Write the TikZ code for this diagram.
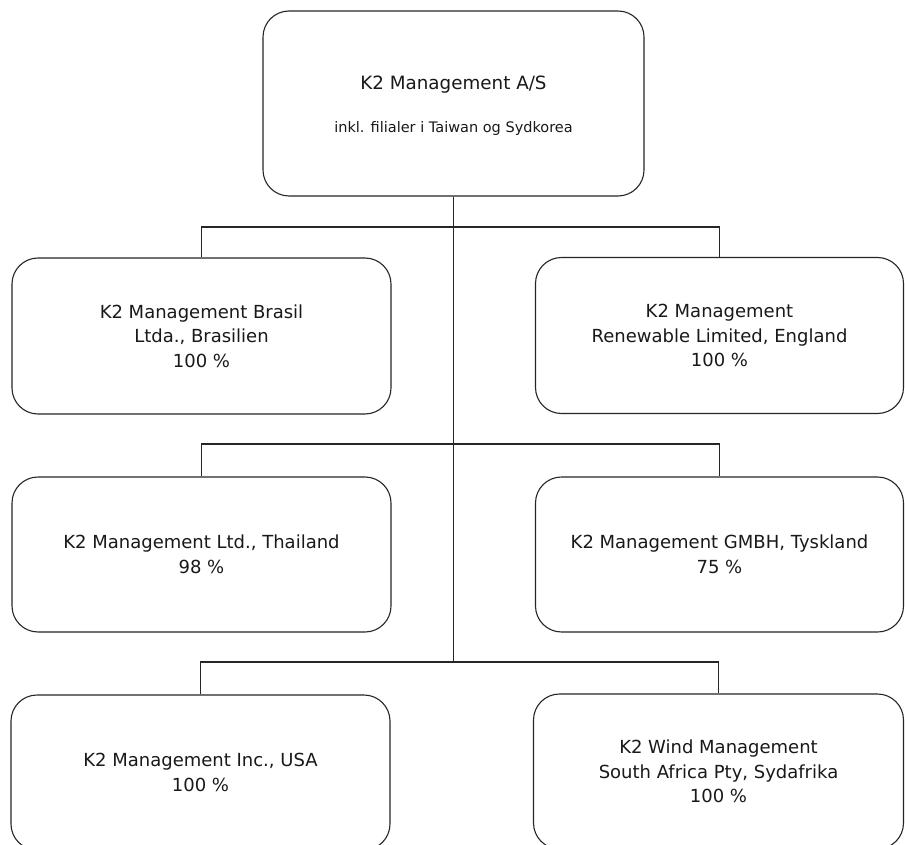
\documentclass[tikz,border=0pt]{standalone}
\usepackage{fontspec}
\setmainfont{DejaVu Sans}
\begin{document}
\begin{tikzpicture}[x=1pt,y=-1pt,
  box/.style={draw=black!85, line width=1.1pt, rounded corners=26pt, align=center,
    inner sep=0pt, font=\fontsize{18}{24.5}\selectfont, text=black!90},
  lbl/.style={inner sep=0pt, text=black!90},
  conn/.style={draw=black!85, line width=1.1pt}]
\useasboundingbox (0,0) rectangle (905,845);
\clip (0,0) rectangle (905,845);
\fill[white] (0,0) rectangle (905,845);
% parent
\node[box, minimum width=381pt, minimum height=185pt] (top) at (453.5,103.5) {};
\node[lbl, font=\fontsize{18.3}{22}\selectfont] (toptitle) at (453.5,85) {K2 Management A/S};
\node[lbl, font=\fontsize{14.5}{17}\selectfont] (topsub) at (453.5,129) {inkl. filialer i Taiwan og Sydkorea};
% subsidiaries
\node[box, minimum width=379pt, minimum height=156pt] (b1) at (201.5,336)
  {K2 Management Brasil\\Ltda., Brasilien\\100 \%};
\node[box, minimum width=368pt, minimum height=156pt] (b2) at (719.5,335.5)
  {K2 Management\\Renewable Limited, England\\100 \%};
\node[box, minimum width=379pt, minimum height=155pt] (b3) at (201.5,554.5)
  {K2 Management Ltd., Thailand\\98 \%};
\node[box, minimum width=368pt, minimum height=155pt] (b4) at (719.5,554.5)
  {K2 Management GMBH, Tyskland\\75 \%};
\node[box, minimum width=379pt, minimum height=155pt] (b5) at (200.5,772.5)
  {K2 Management Inc., USA\\100 \%};
\node[box, minimum width=370pt, minimum height=155pt] (b6) at (718.5,771.5)
  {K2 Wind Management\\South Africa Pty, Sydafrika\\100 \%};
% connectors
\coordinate (j1) at (top.south |- 0,227);
\coordinate (j2) at (top.south |- 0,444);
\coordinate (j3) at (top.south |- 0,662);
\draw[conn] (top.south) -- (j3);
\draw[conn] (b1.north) |- (j1) -| (b2.north);
\draw[conn] (b3.north) |- (j2) -| (b4.north);
\draw[conn] (b5.north) |- (j3) -| (b6.north);
\end{tikzpicture}
\end{document}
